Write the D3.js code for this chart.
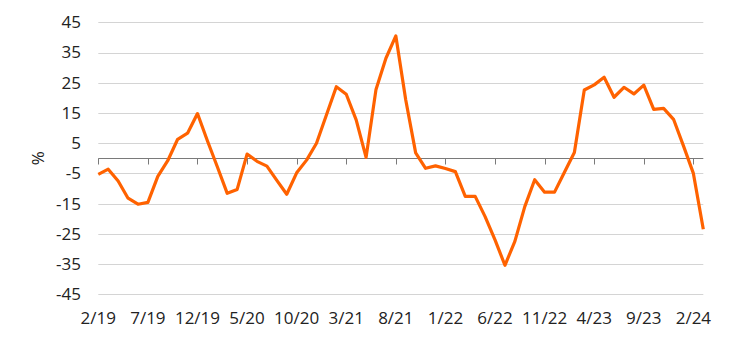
<!DOCTYPE html>
<html lang="en">
<head>
<meta charset="UTF-8" />
<title>Monthly change</title>
<script src="https://d3js.org/d3.v7.min.js"></script>
<style>
    body { margin: 0; background: #fff; }
    svg text { font-family: "Open Sans", sans-serif; font-size: 17px; fill: #222; }
    .grid line { stroke: #d4d4d4; stroke-width: 1px; }
</style>
</head>
<body>
<svg width="744" height="343"></svg>
<script>
// monthly categories, 2/19 .. 3/24
const months = [
    "2/19", "3/19", "4/19", "5/19", "6/19", "7/19", "8/19", "9/19", "10/19", "11/19", "12/19",
    "1/20", "2/20", "3/20", "4/20", "5/20", "6/20", "7/20", "8/20", "9/20", "10/20", "11/20", "12/20",
    "1/21", "2/21", "3/21", "4/21", "5/21", "6/21", "7/21", "8/21", "9/21", "10/21", "11/21", "12/21",
    "1/22", "2/22", "3/22", "4/22", "5/22", "6/22", "7/22", "8/22", "9/22", "10/22", "11/22", "12/22",
    "1/23", "2/23", "3/23", "4/23", "5/23", "6/23", "7/23", "8/23", "9/23", "10/23", "11/23", "12/23",
    "1/24", "2/24", "3/24"
];
const values = [
    -5.3, -3.6, -7.5, -13.2, -15.2, -14.6, -6.0, -0.8, 6.3, 8.3, 14.8,
    5.8, -2.8, -11.6, -10.3, 1.4, -1.0, -2.6, -7.3, -11.9, -4.8, -0.6, 5.0,
    14.3, 23.7, 21.2, 12.7, 0.3, 22.8, 33.1, 40.5, 19.3, 1.8, -3.3, -2.5,
    -3.4, -4.4, -12.6, -12.6, -19.3, -27.0, -35.4, -27.5, -16.0, -7.1, -11.2, -11.2,
    -4.6, 1.9, 22.6, 24.3, 26.8, 20.2, 23.5, 21.3, 24.2, 16.2, 16.5, 12.9,
    4.1, -5.0, -23.5
];
const tickLabels = ["2/19", "7/19", "12/19", "5/20", "10/20", "3/21", "8/21", "1/22", "6/22", "11/22", "4/23", "9/23", "2/24"];
const yTicks = [45, 35, 25, 15, 5, -5, -15, -25, -35, -45];

const svg = d3.select("svg");
const plotLeft = 98.3, plotRight = 703.3, plotTop = 22.3, plotBottom = 294.3;

const x = d3.scalePoint().domain(months).range([plotLeft, plotRight]);
const y = d3.scaleLinear().domain([-45, 45]).range([plotBottom, plotTop]);

// horizontal gridlines
svg.append("g")
    .attr("class", "grid")
    .selectAll("line")
    .data(yTicks)
    .enter()
    .append("line")
    .attr("x1", plotLeft)
    .attr("x2", plotRight)
    .attr("y1", d => Math.round(y(d)) + 0.5)
    .attr("y2", d => Math.round(y(d)) + 0.5);

// y labels
svg.append("g")
    .selectAll("text")
    .data(yTicks)
    .enter()
    .append("text")
    .attr("x", 81)
    .attr("y", d => y(d))
    .attr("dy", "0.35em")
    .attr("text-anchor", "end")
    .text(d => d);

svg.append("text")
    .attr("transform", "translate(44," + y(0) + ") rotate(-90)")
    .attr("text-anchor", "middle")
    .text("%");

// zero axis with ticks
const zeroY = Math.round(y(0)) + 0.5;
svg.append("line")
    .attr("x1", plotLeft)
    .attr("x2", plotRight)
    .attr("y1", zeroY)
    .attr("y2", zeroY)
    .style("stroke", "#7a7a7a")
    .style("stroke-width", "1px");

svg.append("g")
    .selectAll("line")
    .data(tickLabels)
    .enter()
    .append("line")
    .attr("x1", d => Math.round(x(d)) + 0.5)
    .attr("x2", d => Math.round(x(d)) + 0.5)
    .attr("y1", zeroY)
    .attr("y2", zeroY + 6)
    .style("stroke", "#7a7a7a");

// x labels along the bottom
svg.append("g")
    .selectAll("text")
    .data(tickLabels)
    .enter()
    .append("text")
    .attr("x", d => x(d))
    .attr("y", 324)
    .attr("text-anchor", "middle")
    .text(d => d);

// the series
const line = d3.line()
    .x((d, i) => x(months[i]))
    .y(d => y(d));

svg.append("path")
    .datum(values)
    .attr("d", line)
    .style("fill", "none")
    .style("stroke", "#ff6200")
    .style("stroke-width", "3.2px")
    .style("stroke-linejoin", "round");
</script>
</body>
</html>
